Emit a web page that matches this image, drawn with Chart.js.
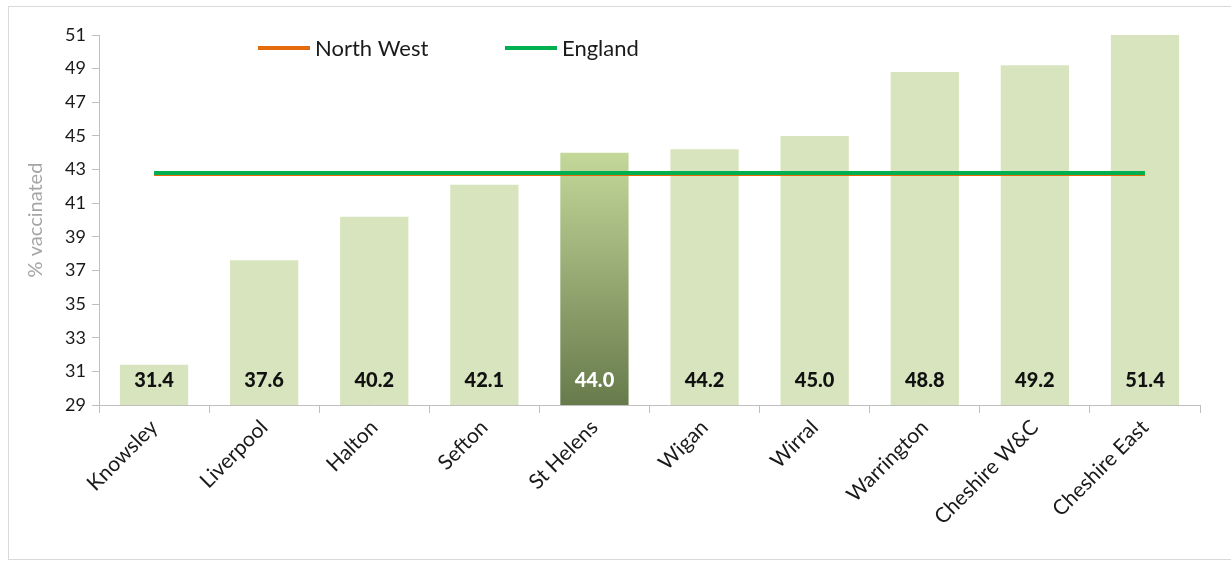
<!DOCTYPE html>
<html>
<head>
<meta charset="utf-8">
<script src="https://cdn.jsdelivr.net/npm/chart.js@4"></script>
<style>
    html, body { margin: 0; padding: 0; background: #fff; }
    #wrap { position: relative; width: 1231px; height: 562px; }
    #frame { position: absolute; left: 8px; top: 6px; width: 1222px; height: 552px; border: 1px solid #d9d9d9; }
    canvas { position: absolute; left: 0; top: 0; }
</style>
</head>
<body>
<div id="wrap">
    <div id="frame"></div>
    <canvas id="vaccChart" width="1231" height="562"></canvas>
</div>
<script>
const areas = ['Knowsley', 'Liverpool', 'Halton', 'Sefton', 'St Helens', 'Wigan', 'Wirral', 'Warrington', 'Cheshire W&C', 'Cheshire East'];
const vaccinated = [31.4, 37.6, 40.2, 42.1, 44.0, 44.2, 45.0, 48.8, 49.2, 51.4];
const northWest = [42.7, 42.7, 42.7, 42.7, 42.7, 42.7, 42.7, 42.7, 42.7, 42.7];
const england = [42.8, 42.8, 42.8, 42.8, 42.8, 42.8, 42.8, 42.8, 42.8, 42.8];
const highlightArea = 'St Helens';

const barColor = '#d7e4bd';
const fontFamily = 'Lato, "Liberation Sans", sans-serif';

function barFill(context) {
    const chart = context.chart;
    if (areas[context.dataIndex] !== highlightArea) return barColor;
    if (!chart.chartArea) return '#9fb36f';
    const y = chart.scales.y;
    const top = y.getPixelForValue(vaccinated[context.dataIndex]);
    const bottom = y.getPixelForValue(y.min);
    const grad = chart.ctx.createLinearGradient(0, top, 0, bottom);
    grad.addColorStop(0, '#c4d89a');
    grad.addColorStop(1, '#677a4b');
    return grad;
}

// values written at the foot of each bar
const barLabels = {
    id: 'barLabels',
    afterDraw(chart) {
        const c = chart.ctx;
        const xs = chart.scales.x;
        const ys = chart.scales.y;
        const baseY = ys.getPixelForValue(ys.min) - 24;
        c.save();
        c.font = '900 20px ' + fontFamily;
        c.textAlign = 'center';
        c.textBaseline = 'middle';
        vaccinated.forEach((v, i) => {
            c.fillStyle = areas[i] === highlightArea ? '#ffffff' : '#111111';
            c.fillText(v.toFixed(1), xs.getPixelForValue(i), baseY);
        });
        c.restore();
    }
};

// legend for the two reference lines only
const lineLegend = {
    id: 'lineLegend',
    afterDraw(chart) {
        const c = chart.ctx;
        const items = [
            { ds: chart.data.datasets[1], x: 258 },
            { ds: chart.data.datasets[2], x: 505 }
        ];
        c.save();
        c.font = '22px ' + fontFamily;
        c.textBaseline = 'middle';
        c.textAlign = 'left';
        items.forEach(item => {
            c.strokeStyle = item.ds.borderColor;
            c.lineWidth = 4;
            c.beginPath();
            c.moveTo(item.x, 48);
            c.lineTo(item.x + 52, 48);
            c.stroke();
            c.fillStyle = '#1a1a1a';
            c.fillText(item.ds.label, item.x + 57, 49);
        });
        c.restore();
    }
};

const ctx = document.getElementById('vaccChart').getContext('2d');
const vaccChart = new Chart(ctx, {
    type: 'bar',
    data: {
        labels: areas,
        datasets: [
            {
                label: '% vaccinated',
                data: vaccinated,
                backgroundColor: barFill,
                barPercentage: 0.62,
                categoryPercentage: 1,
                order: 3
            },
            {
                type: 'line',
                label: 'North West',
                data: northWest,
                borderColor: '#e46c0a',
                borderWidth: 3,
                pointRadius: 0,
                order: 2
            },
            {
                type: 'line',
                label: 'England',
                data: england,
                borderColor: '#00b050',
                borderWidth: 4,
                pointRadius: 0,
                order: 1
            }
        ]
    },
    options: {
        responsive: false,
        animation: false,
        layout: {
            padding: { left: 20, top: 35, right: 31, bottom: 0 }
        },
        plugins: {
            legend: { display: false },
            tooltip: { enabled: false }
        },
        scales: {
            x: {
                offset: true,
                grid: {
                    offset: true,
                    drawOnChartArea: false,
                    drawTicks: true,
                    tickLength: 8,
                    color: '#bfbfbf'
                },
                border: { color: '#bfbfbf', width: 1 },
                ticks: {
                    minRotation: 45,
                    maxRotation: 45,
                    color: '#1a1a1a',
                    font: { family: fontFamily, size: 21 },
                    padding: 2
                },
                afterFit(scale) { scale.height = 157; }
            },
            y: {
                min: 29,
                max: 51,
                ticks: {
                    stepSize: 2,
                    color: '#1a1a1a',
                    font: { family: fontFamily, size: 18 },
                    padding: 6
                },
                grid: {
                    drawOnChartArea: false,
                    drawTicks: true,
                    tickLength: 7,
                    color: '#bfbfbf'
                },
                border: { color: '#bfbfbf', width: 1 },
                title: {
                    display: true,
                    text: '% vaccinated',
                    color: '#a6a6a6',
                    font: { family: fontFamily, size: 20 },
                    padding: { top: 4, bottom: 4 }
                },
                afterFit(scale) { scale.width = 79; }
            }
        }
    },
    plugins: [barLabels, lineLegend]
});
</script>
</body>
</html>
